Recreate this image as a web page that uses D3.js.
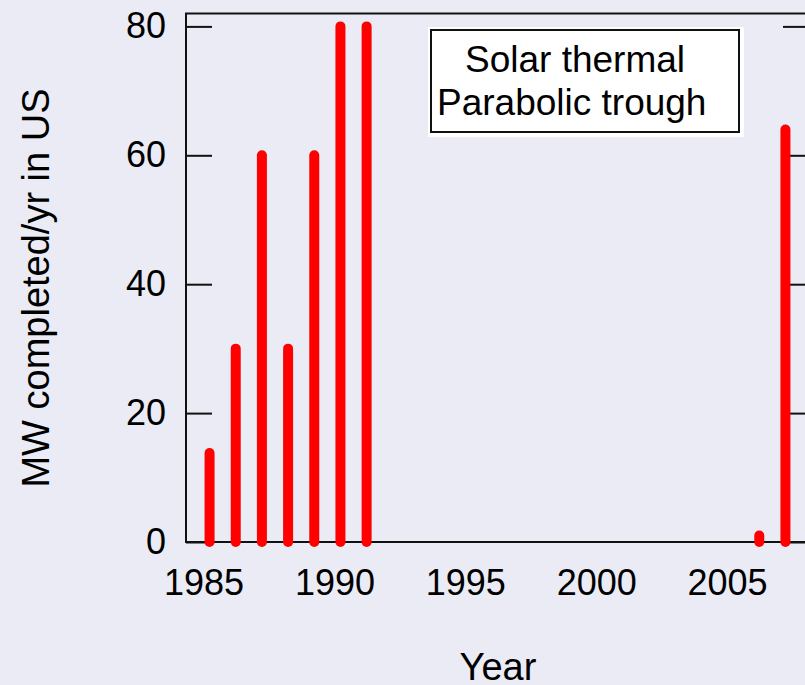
<!DOCTYPE html>
<html>
<head>
<meta charset="utf-8">
<script src="https://cdn.jsdelivr.net/npm/d3@7"></script>
<style>
  html, body { margin: 0; padding: 0; background: #EAEBF5; }
  svg { display: block; }
  text { font-family: "Liberation Sans", Arial, Helvetica, sans-serif; fill: #000; }
</style>
</head>
<body>
<svg id="chart" width="805" height="685"></svg>
<script>
// ---- data ----
const years = [1985, 1986, 1987, 1988, 1989, 1990, 1991, 2006, 2007];
const mwCompleted = [13.8, 30, 60, 30, 60, 80, 80, 1, 64];
const xTickLabels = [1985, 1990, 1995, 2000, 2005];
const yTickValues = [0, 20, 40, 60, 80];
const legendLines = ["Solar thermal", "Parabolic trough"];
const xTitle = "Year";
const yTitle = "MW completed/yr in US";

// ---- layout ----
const svg = d3.select("#chart");
const plotLeft = 186, plotRight = 809, plotTop = 13.5, plotBottom = 542;

const x = d3.scaleLinear().domain([1984.1, 2007.9]).range([plotLeft, plotRight]);
const y = d3.scaleLinear().domain([0, 82]).range([plotBottom, plotTop]);

svg.append("rect").attr("width", 805).attr("height", 685).attr("fill", "#EAEBF5");

// frame
const frame = svg.append("g").attr("stroke", "#111").attr("stroke-width", 2).attr("fill", "none");
frame.append("rect").attr("x", plotLeft).attr("y", plotTop).attr("width", plotRight - plotLeft).attr("height", plotBottom - plotTop);

// left axis
const yAxisL = d3.axisLeft(y).tickValues(yTickValues).tickSizeInner(-26).tickSizeOuter(0).tickPadding(20);
const gL = svg.append("g").attr("transform", `translate(${plotLeft},0)`).call(yAxisL);
gL.select(".domain").remove();
gL.selectAll(".tick line").attr("stroke", "#111").attr("stroke-width", 2);
gL.selectAll(".tick text").attr("font-size", 36).attr("font-family", "Liberation Sans, Arial, sans-serif").attr("fill", "#000");

// right axis (ticks only)
const yAxisR = d3.axisRight(y).tickValues(yTickValues).tickSizeInner(-26).tickSizeOuter(0).tickFormat("");
const gR = svg.append("g").attr("transform", `translate(${plotRight},0)`).call(yAxisR);
gR.select(".domain").remove();
gR.selectAll(".tick line").attr("stroke", "#111").attr("stroke-width", 2);

// bottom axis (labels only)
const xAxis = d3.axisBottom(x).tickValues(xTickLabels).tickSize(0).tickPadding(0).tickFormat(d3.format("d"));
const gB = svg.append("g").attr("transform", `translate(0,${plotBottom})`).call(xAxis);
gB.select(".domain").remove();
gB.selectAll(".tick text")
  .attr("font-size", 36).attr("font-family", "Liberation Sans, Arial, sans-serif").attr("fill", "#000")
  .attr("dy", null).attr("y", 53).attr("dx", -6);

// bars as thick round-capped lines
svg.append("g").selectAll("line")
  .data(years.map((yr, i) => ({ yr, v: mwCompleted[i] })))
  .join("line")
  .attr("x1", d => x(d.yr)).attr("x2", d => x(d.yr))
  .attr("y1", y(0)).attr("y2", d => y(d.v))
  .attr("stroke", "#FF0000").attr("stroke-width", 10).attr("stroke-linecap", "round");

// legend box
const lg = svg.append("g");
lg.append("rect").attr("x", 428).attr("y", 27).attr("width", 316).attr("height", 110).attr("fill", "#fff");
lg.append("rect").attr("x", 431).attr("y", 30).attr("width", 308).attr("height", 102)
  .attr("fill", "#fff").attr("stroke", "#111").attr("stroke-width", 2);
lg.append("text").attr("x", 465).attr("y", 72).attr("font-size", 37).text(legendLines[0]);
lg.append("text").attr("x", 437).attr("y", 115).attr("font-size", 37).text(legendLines[1]);

// axis titles
svg.append("text").attr("x", 498).attr("y", 680).attr("text-anchor", "middle").attr("font-size", 38).text(xTitle);
svg.append("text").attr("transform", "translate(49,288) rotate(-90)").attr("text-anchor", "middle")
  .attr("font-size", 38).text(yTitle);
</script>
</body>
</html>
